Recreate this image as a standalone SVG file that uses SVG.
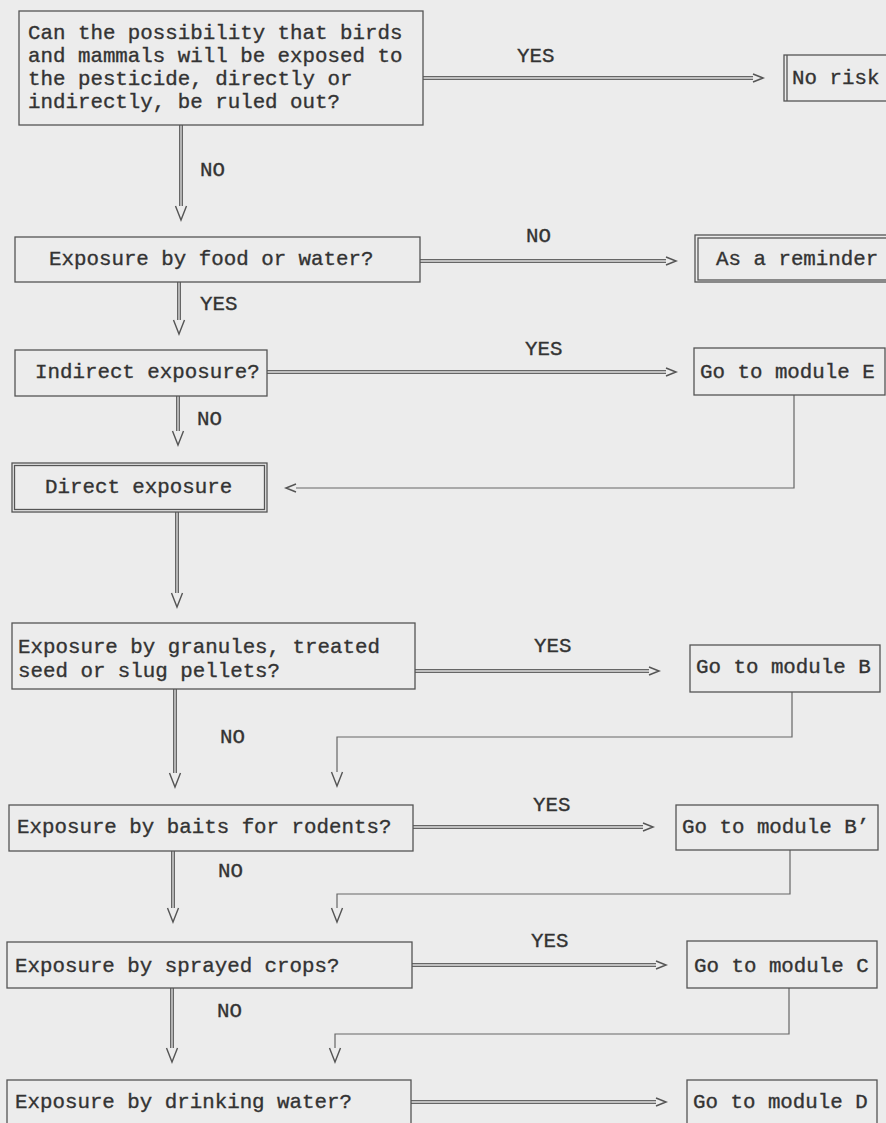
<svg xmlns="http://www.w3.org/2000/svg" width="886" height="1123" viewBox="0 0 886 1123">
<style>
.bg{fill:#ececec}
.box{fill:none;stroke:#555;stroke-width:1.3}
.t{font-family:"Liberation Mono","Courier New",monospace;font-size:20.8px;fill:#333;stroke:#333;stroke-width:0.35}
.dbl{fill:none;stroke:#666;stroke-width:4}
.dbli{fill:none;stroke:#dedede;stroke-width:1.3}
.thin{fill:none;stroke:#666;stroke-width:1.2}
</style>
<defs>
<marker id="ah" markerUnits="userSpaceOnUse" orient="auto" markerWidth="16" markerHeight="16" refX="0" refY="0" overflow="visible">
<path d="M0,-4 L10,0 L0,4" fill="none" stroke="#555" stroke-width="1.5"/>
</marker>
<marker id="av" markerUnits="userSpaceOnUse" orient="auto" markerWidth="16" markerHeight="16" refX="0" refY="0" overflow="visible">
<path d="M0,-5.5 L14,0 L0,5.5" fill="none" stroke="#555" stroke-width="1.4"/>
</marker>
</defs>
<rect class="bg" x="0" y="0" width="886" height="1123"/>

<g id="connectors">
<path class="dbl" d="M423,78 H753" marker-end="url(#ah)"/><path class="dbli" d="M423,78 H753"/>
<path class="dbl" d="M181,125 V206" marker-end="url(#av)"/><path class="dbli" d="M181,125 V206"/>
<path class="dbl" d="M420,261 H666" marker-end="url(#ah)"/><path class="dbli" d="M420,261 H666"/>
<path class="dbl" d="M179,282 V320" marker-end="url(#av)"/><path class="dbli" d="M179,282 V320"/>
<path class="dbl" d="M267,372 H666" marker-end="url(#ah)"/><path class="dbli" d="M267,372 H666"/>
<path class="dbl" d="M178,396 V431" marker-end="url(#av)"/><path class="dbli" d="M178,396 V431"/>
<path class="thin" d="M794,395 V488 H296" marker-end="url(#ah)"/>
<path class="dbl" d="M177,512 V593" marker-end="url(#av)"/><path class="dbli" d="M177,512 V593"/>
<path class="dbl" d="M415,671 H649" marker-end="url(#ah)"/><path class="dbli" d="M415,671 H649"/>
<path class="thin" d="M792,692 V737 H337 V772" marker-end="url(#av)"/>
<path class="dbl" d="M175,689 V773" marker-end="url(#av)"/><path class="dbli" d="M175,689 V773"/>
<path class="dbl" d="M413,827 H643" marker-end="url(#ah)"/><path class="dbli" d="M413,827 H643"/>
<path class="thin" d="M790,850 V894 H337 V908" marker-end="url(#av)"/>
<path class="dbl" d="M173,851 V908" marker-end="url(#av)"/><path class="dbli" d="M173,851 V908"/>
<path class="dbl" d="M412,965 H656" marker-end="url(#ah)"/><path class="dbli" d="M412,965 H656"/>
<path class="thin" d="M789,988 V1034 H335 V1048" marker-end="url(#av)"/>
<path class="dbl" d="M172,988 V1048" marker-end="url(#av)"/><path class="dbli" d="M172,988 V1048"/>
<path class="dbl" d="M411,1102 H656" marker-end="url(#ah)"/><path class="dbli" d="M411,1102 H656"/>
<text class="t" x="517" y="62">YES</text>
<text class="t" x="200" y="176">NO</text>
<text class="t" x="526" y="242">NO</text>
<text class="t" x="200" y="310">YES</text>
<text class="t" x="525" y="355">YES</text>
<text class="t" x="197" y="425">NO</text>
<text class="t" x="534" y="652">YES</text>
<text class="t" x="220" y="743">NO</text>
<text class="t" x="533" y="811">YES</text>
<text class="t" x="218" y="877">NO</text>
<text class="t" x="531" y="947">YES</text>
<text class="t" x="217" y="1017">NO</text>
</g>

<g id="q1">
<rect class="box" x="19" y="11" width="404" height="114"/>
<text class="t" x="28" y="39">Can the possibility that birds</text>
<text class="t" x="28" y="62">and mammals will be exposed to</text>
<text class="t" x="28" y="85">the pesticide, directly or</text>
<text class="t" x="28" y="108">indirectly, be ruled out?</text>
</g>
<g id="norisk">
<rect class="box" x="784" y="55" width="110" height="46"/>
<line class="box" x1="787" y1="55" x2="787" y2="101"/>
<text class="t" x="792" y="84">No risk</text>
</g>
<g id="q2">
<rect class="box" x="15" y="237" width="405" height="45"/>
<text class="t" x="49" y="265">Exposure by food or water?</text>
</g>
<g id="reminder">
<rect class="box" x="695" y="235" width="195" height="47"/>
<rect class="box" x="698" y="238" width="195" height="42"/>
<text class="t" x="716" y="265">As a reminder</text>
</g>
<g id="q3">
<rect class="box" x="15" y="350" width="252" height="46"/>
<text class="t" x="35" y="378">Indirect exposure?</text>
</g>
<g id="modE">
<rect class="box" x="694" y="348" width="191" height="47"/>
<text class="t" x="700" y="378">Go to module E</text>
</g>
<g id="direct">
<rect class="box" x="12" y="463" width="255" height="49"/>
<rect class="box" x="14.5" y="465.5" width="250" height="44"/>
<text class="t" x="45" y="493">Direct exposure</text>
</g>
<g id="q4">
<rect class="box" x="12" y="623" width="403" height="66"/>
<text class="t" x="18" y="653">Exposure by granules, treated</text>
<text class="t" x="18" y="677">seed or slug pellets?</text>
</g>
<g id="modB">
<rect class="box" x="690" y="645" width="190" height="47"/>
<text class="t" x="696" y="673">Go to module B</text>
</g>
<g id="q5">
<rect class="box" x="9" y="805" width="404" height="46"/>
<text class="t" x="17" y="833">Exposure by baits for rodents?</text>
</g>
<g id="modB2">
<rect class="box" x="676" y="805" width="202" height="45"/>
<text class="t" x="682" y="833">Go to module B’</text>
</g>
<g id="q6">
<rect class="box" x="7" y="942" width="405" height="46"/>
<text class="t" x="15" y="972">Exposure by sprayed crops?</text>
</g>
<g id="modC">
<rect class="box" x="687" y="941" width="190" height="47"/>
<text class="t" x="694" y="972">Go to module C</text>
</g>
<g id="q7">
<rect class="box" x="7" y="1080" width="404" height="60"/>
<text class="t" x="15" y="1108">Exposure by drinking water?</text>
</g>
<g id="modD">
<rect class="box" x="687" y="1080" width="190" height="60"/>
<text class="t" x="693" y="1108">Go to module D</text>
</g>
</svg>
